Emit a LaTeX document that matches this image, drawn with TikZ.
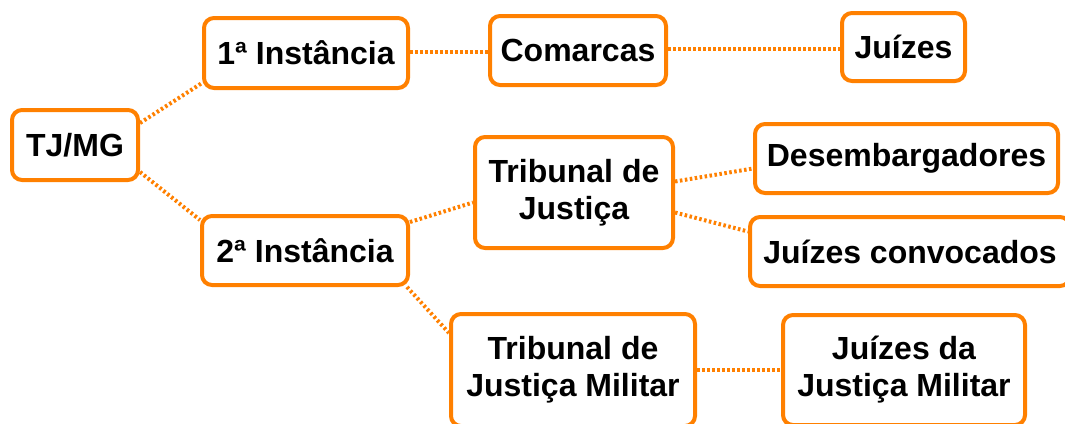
\documentclass[tikz,border=0pt]{standalone}
\usepackage{fontspec}
\setmainfont{Liberation Sans}
\usetikzlibrary{backgrounds}
\definecolor{boxorange}{RGB}{255,128,0}
\tikzset{
  box/.style={draw=boxorange, line width=4pt, rounded corners=10pt, fill=white,
    align=center, inner sep=0pt, font=\fontsize{32}{37}\selectfont\bfseries, text=black},
  link/.style={draw=boxorange, line width=4pt, dash pattern=on 2.5pt off 2.5pt}
}
\begin{document}
\begin{tikzpicture}[x=1pt,y=-1pt]
\useasboundingbox (0,0) rectangle (1065,423);
\node[box, minimum width=126pt, minimum height=70pt] (tjmg) at (75,145) {TJ/MG};
\node[box, minimum width=204pt, minimum height=70pt] (i1) at (306,53) {1ª Instância};
\node[box, minimum width=176pt, minimum height=69pt] (com) at (578,50.5) {Comarcas};
\node[box, minimum width=123pt, minimum height=68pt] (jui) at (903.5,47) {Juízes};
\node[box, minimum width=198pt, minimum height=111pt] (tj) at (574,192.5) {Tribunal de\\Justiça};
\node[box, minimum width=206pt, minimum height=69pt] (i2) at (305,250.5) {2ª Instância};
\node[box, minimum width=303pt, minimum height=69pt] (des) at (906.5,158.5) {Desembargadores};
\node[box, minimum width=320pt, minimum height=69pt] (jc) at (910,251.5) {Juízes convocados};
\node[box, minimum width=244pt, minimum height=112pt] (tjm) at (573,370) {Tribunal de\\Justiça Militar};
\node[box, minimum width=242pt, minimum height=110pt] (jjm) at (904,370) {Juízes da\\Justiça Militar};
\begin{scope}[on background layer]
\draw[link] ([yshift=22pt]tjmg.east) -- ([yshift=7pt]i1.south west);
\draw[link] ([yshift=-27pt]tjmg.east) -- ([yshift=-6pt]i2.north west);
\draw[link] ([yshift=1pt]i1.east) -- ([yshift=1pt]i1.east -| com.west);
\draw[link] ([yshift=1.5pt]com.east) -- ([yshift=1.5pt]com.east -| jui.west);
\draw[link] ([yshift=-8pt]i2.north east) -- ([yshift=-10pt]tj.west);
\draw[link] ([xshift=-3pt]i2.south east) -- ([yshift=-21pt]tjm.north west);
\draw[link] ([yshift=11pt]tj.east) -- ([yshift=-10pt]des.west);
\draw[link] ([yshift=-20pt]tj.east) -- ([yshift=20pt]jc.west);
\draw[link] (tjm.east) -- (jjm.west);
\end{scope}
\end{tikzpicture}
\end{document}
